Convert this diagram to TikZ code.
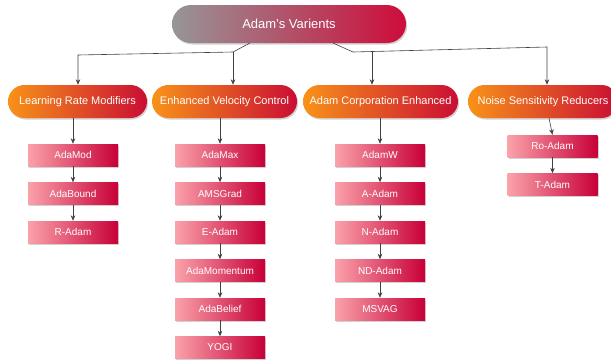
\documentclass[tikz,border=0pt]{standalone}
\usepackage{fontspec}
\setmainfont{Liberation Sans}
\usepackage{tikz}
\usetikzlibrary{arrows.meta, shadows}
\definecolor{rootL}{RGB}{150,150,152}
\definecolor{rootR}{RGB}{206,12,58}
\definecolor{grpL}{RGB}{248,146,24}
\definecolor{grpR}{RGB}{202,14,52}
\definecolor{algL}{RGB}{250,162,170}
\definecolor{algR}{RGB}{200,0,56}
\tikzset{
  softshadow/.style={drop shadow={shadow xshift=1.2pt, shadow yshift=-1.5pt, opacity=0.3, fill=black!60}},
  rootbox/.style={rounded corners=19pt, left color=rootL, right color=rootR, minimum width=234pt,
    minimum height=38pt, text=white, font=\fontsize{13}{15}\selectfont, softshadow},
  grpbox/.style={rounded corners=16.5pt, left color=grpL, right color=grpR, minimum height=33pt,
    inner sep=0pt, text=white, font=\fontsize{11}{13}\selectfont, softshadow},
  algbox/.style={left color=algL, right color=algR, minimum width=90pt, minimum height=22pt,
    inner sep=0pt, text=white, font=\fontsize{10}{12}\selectfont, softshadow},
  link/.style={draw=black!75, line width=0.6pt, -{Stealth[length=5.5pt, width=4.5pt]}}
}

\begin{document}
\begin{tikzpicture}[x=1pt, y=-1pt]
\useasboundingbox (0,0) rectangle (611,362);
% root
\node[rootbox] (root) at (289,24) {Adam's Varients};
% groups
\node[grpbox, minimum width=139pt] (lrm) at (77.5,101.5) {Learning Rate Modifiers};
\node[grpbox, minimum width=145pt] (evc) at (224.5,101.5) {Enhanced Velocity Control};
\node[grpbox, minimum width=155pt] (ace) at (380.5,101.5) {Adam Corporation Enhanced};
\node[grpbox, minimum width=150pt] (nsr) at (543,101.5) {Noise Sensitivity Reducers};
% learning rate column
\node[algbox] (adamod) at (73,155) {AdaMod};
\node[algbox] (adabound) at (73,193.5) {AdaBound};
\node[algbox] (radam) at (73,232) {R-Adam};
% velocity column
\node[algbox] (adamax) at (220,155) {AdaMax};
\node[algbox] (amsgrad) at (220,193.5) {AMSGrad};
\node[algbox] (eadam) at (220,232) {E-Adam};
\node[algbox] (adamom) at (220,270.5) {AdaMomentum};
\node[algbox] (adabelief) at (220,309) {AdaBelief};
\node[algbox] (yogi) at (220,347.5) {YOGI};
% corporation column
\node[algbox] (adamw) at (380,155) {AdamW};
\node[algbox] (aadam) at (380,193.5) {A-Adam};
\node[algbox] (nadam) at (380,232) {N-Adam};
\node[algbox] (ndadam) at (380,270.5) {ND-Adam};
\node[algbox] (msvag) at (380,309) {MSVAG};
% noise column
\node[algbox] (roadam) at (552.5,146) {Ro-Adam};
\node[algbox] (tadam) at (552.5,184.5) {T-Adam};
% trunk from root
\coordinate (rl) at (250,43);
\coordinate (rr) at (333,43);
\coordinate (jl) at (233,52);
\coordinate (jr) at (353,52);
\coordinate (jm) at (372,51.6);
\coordinate (tl) at (78,55);
\coordinate (tr) at (547,47);
\coordinate (ns) at (549,118);
\draw[link] (rl) -- (jl) -- (tl) -- (tl |- lrm.north);
\draw[link] (jl) -- (jl |- evc.north);
\draw[link] (rr) -- (jr) -- (tr) -- (tr |- nsr.north);
\draw[link] (jm) -- (jm |- ace.north);
% group to first item
\draw[link] (lrm.south -| adamod.north) -- (adamod.north);
\draw[link] (evc.south -| adamax.north) -- (adamax.north);
\draw[link] (ace.south -| adamw.north) -- (adamw.north);
\draw[link] (ns) -- (roadam.north);
% chains
\draw[link] (adamod) -- (adabound);
\draw[link] (adabound) -- (radam);
\draw[link] (adamax) -- (amsgrad);
\draw[link] (amsgrad) -- (eadam);
\draw[link] (eadam) -- (adamom);
\draw[link] (adamom) -- (adabelief);
\draw[link] (adabelief) -- (yogi);
\draw[link] (adamw) -- (aadam);
\draw[link] (aadam) -- (nadam);
\draw[link] (nadam) -- (ndadam);
\draw[link] (ndadam) -- (msvag);
\draw[link] (roadam) -- (tadam);
\end{tikzpicture}
\end{document}
